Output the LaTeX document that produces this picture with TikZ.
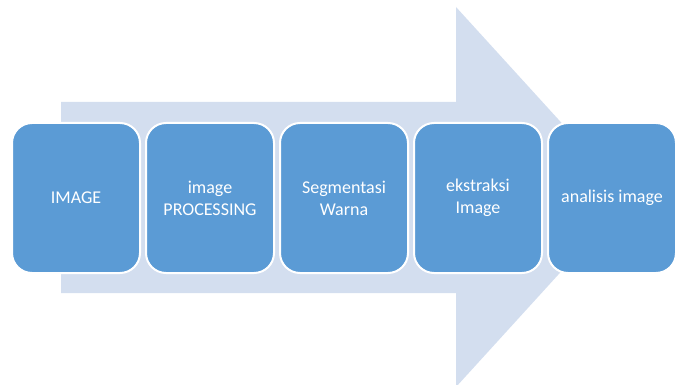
\documentclass[tikz,border=0pt]{standalone}
\usepackage{fontspec}
\setmainfont{Carlito}
\usetikzlibrary{positioning}
\definecolor{stepblue}{HTML}{5B9BD5}
\definecolor{arrowblue}{HTML}{D3DEEF}
\tikzset{
    stepbox/.style={draw=white, line width=2pt, fill=stepblue, rounded corners=20pt,
        minimum width=128pt, minimum height=150pt, text=white, align=center,
        font=\fontsize{18}{22}\selectfont},
    bigarrow/.style={fill=arrowblue}
}

\begin{document}
\begin{tikzpicture}[x=1pt,y=-1pt]
\tikzstyle{every node}=[inner sep=0pt]
\clip (0,0) rectangle (678,385);

% big arrow behind the steps
\fill[bigarrow] (61,102) -- (456,102) -- (456,7) -- (629,197)
    -- (456,387) -- (456,293) -- (61,293) -- cycle;

\node[stepbox] (img) at (76,198) {IMAGE};
\node[stepbox, right=4pt of img] (proc) {image\\PROCESSING};
\node[stepbox, right=4pt of proc] (seg) {Segmentasi\\Warna};
\node[stepbox, right=4pt of seg] (ext) {ekstraksi\\Image};
\node[stepbox, right=4pt of ext] (anl) {analisis image};
\end{tikzpicture}
\end{document}
